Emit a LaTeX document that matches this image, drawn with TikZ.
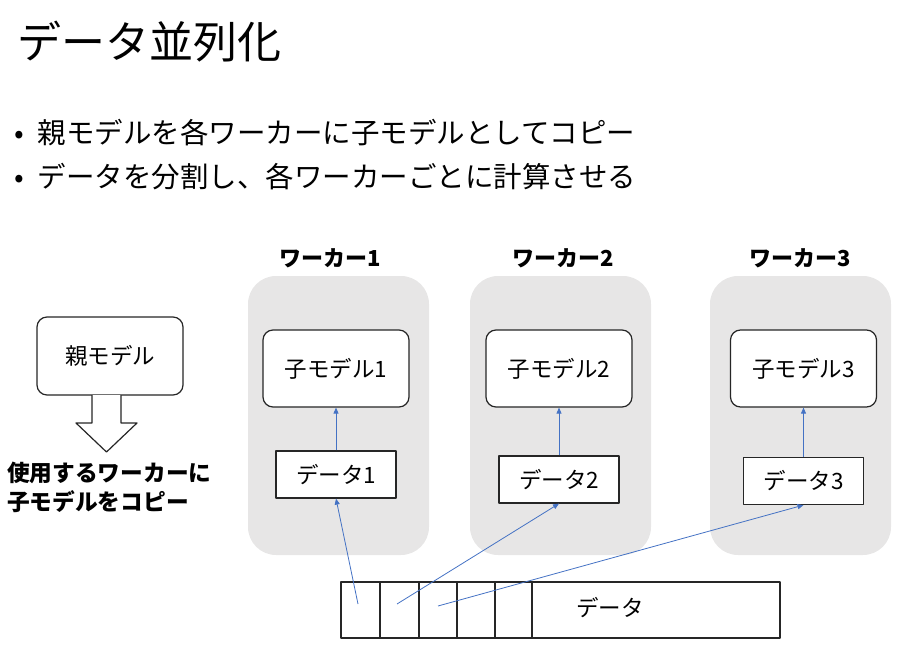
\documentclass[tikz,border=0pt]{standalone}
\usepackage{fontspec}
\newfontfamily\cjk{Noto Sans CJK JP}
\usetikzlibrary{arrows.meta}
\definecolor{wgray}{HTML}{E7E6E6}
\definecolor{lblue}{HTML}{4472C4}
\begin{document}
\begin{tikzpicture}[x=1pt,y=-1pt,>={Triangle[length=6pt,width=5pt]}, font=\cjk, line join=round,
  worker/.style={fill=wgray, rounded corners=28pt, minimum width=181pt, minimum height=279pt},
  model/.style={draw=black!85, line width=1.2pt, fill=white, rounded corners=10pt, minimum width=146pt, minimum height=77pt, font=\cjk\fontsize{22.5}{26}\selectfont},
  part/.style={draw=black!85, line width=1.2pt, fill=white, minimum width=120pt, minimum height=47pt, font=\cjk\fontsize{22.5}{26}\selectfont},
  feed/.style={->, lblue, line width=0.8pt}]
\useasboundingbox (0,0) rectangle (908,658);
\node[anchor=west, font=\cjk\fontsize{44}{52}\selectfont] (title) at (14,42) {データ並列化};
\node[anchor=west, font=\cjk\fontsize{28.5}{34}\selectfont] (b1) at (11,133) {\makebox[23pt][l]{•}親モデルを各ワーカーに子モデルとしてコピー};
\node[anchor=west, font=\cjk\fontsize{28.5}{34}\selectfont] (b2) at (11,177) {\makebox[23pt][l]{•}データを分割し、各ワーカーごとに計算させる};
% workers
\foreach \i/\w/\c/\l/\d in {1/338.5/336/330/474.5, 2/560.5/559/563/479.5, 3/800.5/803.5/800/481}{
  \node[worker] (w\i) at (\w,415.5) {};
  \node[font=\cjk\bfseries\fontsize{22}{26}\selectfont] (l\i) at (\l,258) {ワーカー\i};
  \node[model] (m\i) at (\c,368.5) {子モデル\i};
  \node[part] (d\i) at (\c,\d) {データ\i};
  \draw[feed] (d\i.north) -- (m\i.south);
}
% parent model
\node[model, minimum width=146pt, minimum height=78pt] (parent) at (110,356) {親モデル};
\draw[line width=1.2pt, black!85, fill=white] (92,395)--(92,423)--(76,423)--(106.5,452)--(137,423)--(121,423)--(121,395);
\node[anchor=north west, align=left, inner sep=0pt, font=\cjk\bfseries\fontsize{22.7}{28.5}\selectfont] (note) at (7,462) {使用するワーカーに\\子モデルをコピー};
% data
\node[draw=black!85, line width=1.2pt, minimum width=439pt, minimum height=56pt] (data) at (560.5,610) {};
\foreach \x in {380,419,457,495,532}
  \draw[line width=1.2pt, black!85] (\x,582)--(\x,638);
\node[font=\cjk\fontsize{22.5}{26}\selectfont] (dlabel) at (610,608) {データ};
\path (358,604) coordinate (c1) (397,604) coordinate (c2) (438,606) coordinate (c3);
\foreach \i in {1,2,3}
  \draw[feed] (c\i) -- (d\i.south);
\end{tikzpicture}
\end{document}
